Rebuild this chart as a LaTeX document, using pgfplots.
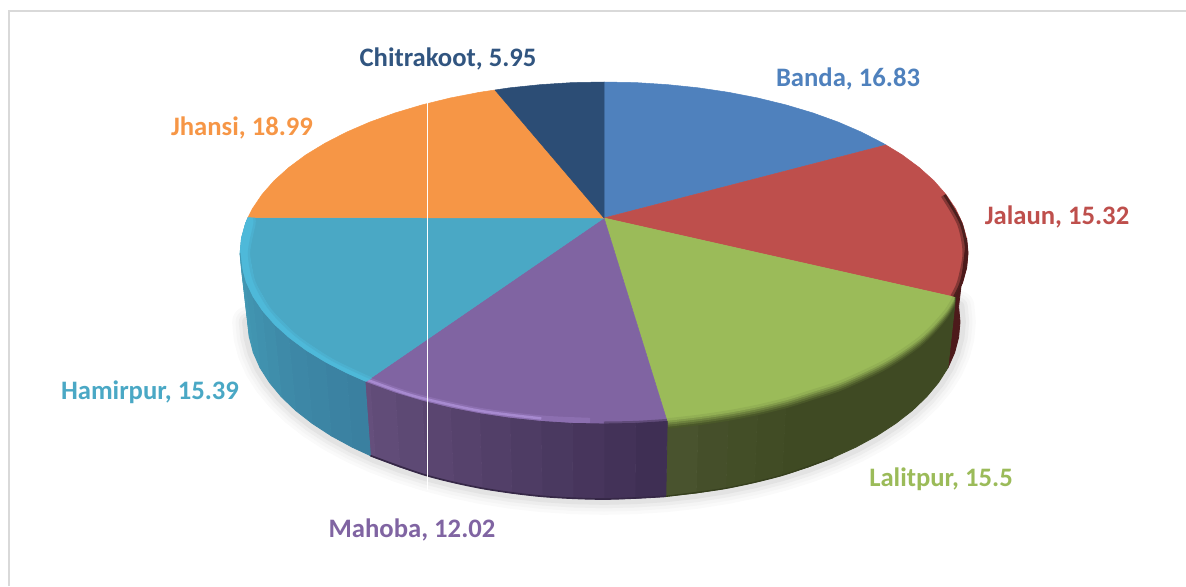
\documentclass[border=0pt]{standalone}
\usepackage{pgfplots}
\pgfplotsset{compat=1.18}
\usepackage{pgfplotstable}
\usepackage{fontspec}
\setmainfont{Carlito}
\definecolor{cBanda}{HTML}{4F81BD}
\definecolor{cJalaun}{HTML}{BE4F4C}
\definecolor{cLalit}{HTML}{9BBB59}
\definecolor{cMahoba}{HTML}{8064A2}
\definecolor{cHamir}{HTML}{4AA8C5}
\definecolor{cJhansi}{HTML}{F69646}
\definecolor{cChitra}{HTML}{2C4D75}
\definecolor{M1}{HTML}{3F2F54}
\definecolor{M2}{HTML}{654F7C}
\definecolor{H1}{HTML}{3A80A0}
\definecolor{H2}{HTML}{4399B4}
\definecolor{sJal}{HTML}{4D1A1B}
\definecolor{sLal}{HTML}{3F4A23}
\definecolor{bevH}{HTML}{4EB9D9}
\definecolor{bevM}{HTML}{A78AD0}
\newcommand\F[2]{\addplot[fill=#1,draw=#1,line width=0.3pt] coordinates {#2};}
\newcommand\SD[2]{\addplot[fill=#1,draw=#1,line width=0.5pt,line join=round] coordinates {#2};}
\pgfplotstableread{
x y
958.6 306.6
960 322
958.6 337.4
954.6 352.7
947.9 367.8
938.5 382.5
926.6 396.8
912.3 410.5
895.6 423.5
876.7 435.8
855.7 447.2
832.8 457.6
808.2 467
782 475.3
754.4 482.4
725.8 488.3
696.1 493
665.8 496.3
635 498.3
604 499
573 498.3
542.2 496.3
511.9 493
482.2 488.3
453.6 482.4
426 475.3
399.8 467
375.2 457.6
352.3 447.2
331.3 435.8
312.4 423.5
295.7 410.5
281.4 396.8
269.5 382.5
260.1 367.8
253.4 352.7
249.4 337.4
248 322
}\botc
\pgfplotstableread{
x y
954 301
946 314
933 329
919.2 342
901 355
882.8 366
860 377
838 386.5
810 395.5
786 403
757 410
728.5 415.5
698 420
667.5 423.5
}\lalc
\begin{document}
\begin{tikzpicture}
\begin{axis}[scale only axis,width=711.6pt,height=351.6pt,xmin=0,xmax=1186,ymin=0,ymax=586,y dir=reverse,hide axis]
\path[use as bounding box] (axis cs:0,0) rectangle (axis cs:1186,586);
% frame
\addplot[draw=black!15,line width=1.5pt] coordinates {(9,586) (9,11) (1186,11)};
% shadow
\addplot[draw=black!2,line width=19pt,line join=round,line cap=round] table {\botc};
\addplot[draw=black!4,line width=15pt,line join=round,line cap=round] table {\botc};
\addplot[draw=black!7,line width=11pt,line join=round,line cap=round] table {\botc};
\addplot[draw=black!11,line width=7pt,line join=round,line cap=round] table {\botc};
% top faces: Banda 16.83, Jalaun 15.32, Lalitpur 15.5, Mahoba 12.02, Hamirpur 15.39, Jhansi 18.99, Chitrakoot 5.95
\F{cBanda}{(604,218) (604,82) (635.7,82.6) (667.2,84.6) (698.2,87.8) (728.5,92.3) (757.8,98) (786,104.9) (812.8,112.9) (838,122) (861.4,132.1) (882.8,143.1) (886,145) (604,218)}
\F{cJalaun}{(604,218) (886,145) (902.2,154.9) (919.2,167.5) (933.9,180.7) (946,194.5) (955.6,208.7) (962.5,223.3) (966.6,238.1) (968,253) (966.6,267.9) (962.5,282.7) (955.6,297.3) (604,218)}
\F{cLalit}{(604,218) (955.6,297.3) (946,311.5) (933.9,325.3) (919.2,338.5) (902.2,351.1) (882.8,362.9) (861.4,373.9) (838,384) (812.8,393.1) (786,401.1) (757.8,408) (728.5,413.7) (698.2,418.2) (667.2,421.4) (604,218)}
\F{cMahoba}{(604,218) (667.2,421.4) (635.7,423.4) (604,424) (572.3,423.4) (540.8,421.4) (509.8,418.2) (479.5,413.7) (450.2,408) (422,401.1) (395.2,393.1) (370,384) (365,382) (604,218)}
\F{cHamir}{(604,218) (365,382) (346.6,373.9) (325.2,362.9) (305.8,351.1) (288.8,338.5) (274.1,325.3) (262,311.5) (252.4,297.3) (245.5,282.7) (241.4,267.9) (240,253) (241.4,238.1) (245.5,223.3) (248,217.5) (604,218)}
\F{cJhansi}{(604,218) (248,217.5) (252.4,208.7) (262,194.5) (274.1,180.7) (288.8,167.5) (305.8,154.9) (325.2,143.1) (346.6,132.1) (370,122) (395.2,112.9) (422,104.9) (450.2,98) (479.5,92.3) (495,90) (604,218)}
\F{cChitra}{(604,218) (495,90) (509.8,87.8) (540.8,84.6) (572.3,82.6) (604,82) (604,218)}
% bevels
\addplot[draw=cJalaun!70!black,line width=3pt,smooth] coordinates {(943.2,195.5) (959.5,223.8) (965,253) (959.5,282.2) (952.7,296.5)};
\addplot[draw=cJalaun!40!black,line width=1.6pt,smooth] coordinates {(944.6,195) (961,223.5) (966.5,253) (961,282.5) (954.2,297)};
\addplot[draw=cMahoba!70!bevM,line width=3.6pt,smooth] coordinates {(367.2,379.8) (397,390.6) (423.5,398.5) (480.5,410.9) (541.3,418.4) (590,420.8)};
\addplot[draw=bevM,line width=1.5pt,smooth] coordinates {(367.2,379.8) (397,390.6) (423.5,398.5) (480.5,410.9) (541.3,418.4)};
\addplot[draw=cMahoba!75!black,line width=3pt,smooth] coordinates {(604,424) (635.7,423.4) (667.2,421.4)};
\F{bevH}{(365,382) (346.6,373.9) (325.2,362.9) (305.8,351.1) (288.8,338.5) (274.1,325.3) (262,311.5) (252.4,297.3) (245.5,282.7) (241.4,267.9) (240,253) (241.4,238.1) (245.5,223.3) (248,217.5) (254,218) (254.4,224.2) (249,253) (254.4,281.8) (270.4,309.8) (296.6,336) (332,359.7) (371.1,378.3) (365,382)}
\addplot[draw=bevH!50!cHamir,line width=1.4pt,smooth] coordinates {(254,218) (254.4,224.2) (249,253) (254.4,281.8) (270.4,309.8) (296.6,336) (332,359.7) (371.1,378.3)};
% sides
\SD{sJal}{(966.6,238.1) (968,253) (966.6,267.9) (962.5,282.7) (955.6,297.3) (947.9,367.8) (954.6,352.7) (958.6,337.4) (960,322) (958.6,306.6) (966.6,238.1)}
\SD{sLal}{(955.6,297.3) (946,311.5) (933.9,325.3) (919.2,338.5) (902.2,351.1) (882.8,362.9) (861.4,373.9) (838,384) (812.8,393.1) (786,401.1) (782,475.3) (808.2,467) (832.8,457.6) (855.7,447.2) (876.7,435.8) (895.6,423.5) (912.3,410.5) (926.6,396.8) (938.5,382.5) (947.9,367.8) (955.6,297.3)}
\SD{sLal!99!white}{(786,401.1) (757.8,408) (754.4,482.4) (782,475.3) (786,401.1)}
\SD{sLal!98!white}{(757.8,408) (728.5,413.7) (725.8,488.3) (754.4,482.4) (757.8,408)}
\SD{sLal!97!white}{(728.5,413.7) (698.2,418.2) (696.1,493) (725.8,488.3) (728.5,413.7)}
\SD{sLal!95!white}{(698.2,418.2) (667.2,421.4) (665.8,496.3) (696.1,493) (698.2,418.2)}
% Lalitpur blur between face and side
\addplot[draw=cLalit!12!sLal,line width=1.5pt,smooth,yshift=-2.4pt] table {\lalc};
\addplot[draw=cLalit!30!sLal,line width=1.5pt,smooth,yshift=-1.2pt] table {\lalc};
\addplot[draw=cLalit!50!sLal,line width=1.5pt,smooth] table {\lalc};
\addplot[draw=cLalit!72!sLal,line width=1.5pt,smooth,yshift=1.2pt] table {\lalc};
\addplot[draw=cLalit!90!sLal,line width=1.5pt,smooth,yshift=2.4pt] table {\lalc};
\SD{M2!0!M1}{(667.2,421.4) (635.7,423.4) (635,498.3) (665.8,496.3) (667.2,421.4)}
\SD{M2!10!M1}{(635.7,423.4) (604,424) (604,499) (635,498.3) (635.7,423.4)}
\SD{M2!20!M1}{(604,424) (572.3,423.4) (573,498.3) (604,499) (604,424)}
\SD{M2!30!M1}{(572.3,423.4) (540.8,421.4) (542.2,496.3) (573,498.3) (572.3,423.4)}
\SD{M2!40!M1}{(540.8,421.4) (509.8,418.2) (511.9,493) (542.2,496.3) (540.8,421.4)}
\SD{M2!50!M1}{(509.8,418.2) (479.5,413.7) (482.2,488.3) (511.9,493) (509.8,418.2)}
\SD{M2!60!M1}{(479.5,413.7) (450.2,408) (453.6,482.4) (482.2,488.3) (479.5,413.7)}
\SD{M2!70!M1}{(450.2,408) (422,401.1) (426,475.3) (453.6,482.4) (450.2,408)}
\SD{M2!80!M1}{(422,401.1) (395.2,393.1) (399.8,467) (426,475.3) (422,401.1)}
\SD{M2!90!M1}{(395.2,393.1) (370,384) (375.2,457.6) (399.8,467) (395.2,393.1)}
\SD{M2}{(370,384) (365,382) (370.4,455.6) (375.2,457.6) (370,384)}
\SD{H2!0!H1}{(365,382) (346.6,373.9) (352.3,447.2) (370.4,455.6) (365,382)}
\SD{H2!10!H1}{(346.6,373.9) (325.2,362.9) (331.3,435.8) (352.3,447.2) (346.6,373.9)}
\SD{H2!20!H1}{(325.2,362.9) (305.8,351.1) (312.4,423.5) (331.3,435.8) (325.2,362.9)}
\SD{H2!30!H1}{(305.8,351.1) (288.8,338.5) (295.7,410.5) (312.4,423.5) (305.8,351.1)}
\SD{H2!40!H1}{(288.8,338.5) (274.1,325.3) (281.4,396.8) (295.7,410.5) (288.8,338.5)}
\SD{H2!55!H1}{(274.1,325.3) (262,311.5) (269.5,382.5) (281.4,396.8) (274.1,325.3)}
\SD{H2!70!H1}{(262,311.5) (252.4,297.3) (260.1,367.8) (269.5,382.5) (262,311.5)}
\SD{H2!80!H1}{(252.4,297.3) (245.5,282.7) (253.4,352.7) (260.1,367.8) (252.4,297.3)}
\SD{H2!90!H1}{(245.5,282.7) (241.4,267.9) (249.4,337.4) (253.4,352.7) (245.5,282.7)}
\SD{H2}{(241.4,267.9) (240,253) (248,322) (249.4,337.4) (241.4,267.9)}
% rims
\addplot[draw=M1!85!black,line width=1pt,smooth] coordinates {(370.4,455.6) (426,475.3) (482.2,488.3) (542.2,496.3) (604,499) (665.8,496.3)};
\addplot[draw=sLal!85!black,line width=0.8pt,smooth] coordinates {(665.8,496.3) (725.8,488.3) (782,475.3) (832.8,457.6)};
% white line
\addplot[draw=white,line width=0.5pt] coordinates {(427,103) (427,490)};
% labels
\node[font=\bfseries\fontsize{16}{18}\selectfont,text=cChitra!85!cBanda] at (axis cs:448,59) {Chitrakoot, 5.95};
\node[font=\bfseries\fontsize{16}{18}\selectfont,text=cBanda] at (axis cs:848,78.5) {Banda, 16.83};
\node[font=\bfseries\fontsize{16}{18}\selectfont,text=cJalaun] at (axis cs:1057,216.5) {Jalaun, 15.32};
\node[font=\bfseries\fontsize{16}{18}\selectfont,text=cLalit] at (axis cs:941,479.5) {Lalitpur, 15.5};
\node[font=\bfseries\fontsize{16}{18}\selectfont,text=cMahoba] at (axis cs:412,529.5) {Mahoba, 12.02};
\node[font=\bfseries\fontsize{16}{18}\selectfont,text=cHamir] at (axis cs:150,392.5) {Hamirpur, 15.39};
\node[font=\bfseries\fontsize{16}{18}\selectfont,text=cJhansi] at (axis cs:242,127.5) {Jhansi, 18.99};
\end{axis}
\end{tikzpicture}
\end{document}
